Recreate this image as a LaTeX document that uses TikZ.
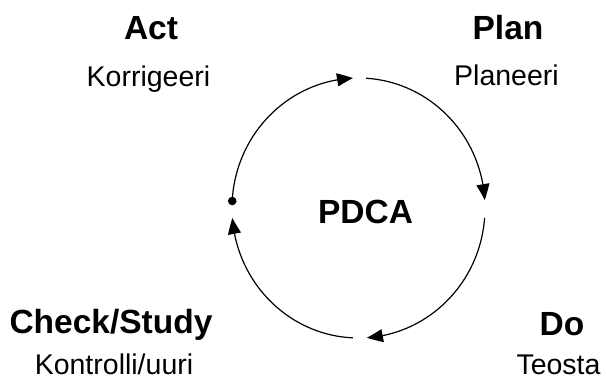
\documentclass[tikz,border=0pt]{standalone}
\usepackage{fontspec}
\setmainfont{Liberation Sans}
\usetikzlibrary{arrows.meta,bending,calc}
\begin{document}
\begin{tikzpicture}[x=1pt,y=1pt,
  head/.style={inner sep=0pt,anchor=base,font=\fontsize{33.5}{38}\selectfont\bfseries},
  sub/.style={inner sep=0pt,anchor=base,font=\fontsize{28.5}{34}\selectfont},
  cyc/.style={line width=1.2pt,black},
  tipA/.style={-{Triangle[length=16pt,width=13pt,bend]}},
]
\useasboundingbox (0,0) rectangle (606,-380);
\def\rx{126.5pt}\def\ry{130pt}
\coordinate (c) at (358.5,-208);
% labels
\node[head] (act) at (151,-39) {Act};
\node[sub] (actsub) at (148.5,-86) {Korrigeeri};
\node[head] (plan) at (508,-39) {Plan};
\node[sub] (plansub) at (506.5,-85) {Planeeri};
\node[head] (check) at (111,-333) {Check/Study};
\node[sub] (checksub) at (114,-374) {Kontrolli/uuri};
\node[head] (do) at (562,-335) {Do};
\node[sub] (dosub) at (558.5,-374) {Teosta};
\node[head] (pdca) at (365.5,-223) {PDCA};
% arc start points
\coordinate (s1) at ($(c)+(86.6:126.5 and 130)$);
\coordinate (s2) at ($(c)+(-4.4:126.5 and 130)$);
\coordinate (s3) at ($(c)+(-92.5:126.5 and 130)$);
\coordinate (s4) at ($(c)+(178.8:126.5 and 130)$);
% cycle arcs
\draw[cyc,tipA] (s1) arc[start angle=86.6,end angle=3.5,x radius=\rx,y radius=\ry];
\draw[cyc,tipA] (s2) arc[start angle=-4.4,end angle=-86.2,x radius=\rx,y radius=\ry];
\draw[cyc,tipA] (s3) arc[start angle=-92.5,end angle=-175.6,x radius=\rx,y radius=\ry];
\draw[cyc,{Circle[length=8.5pt]}-{Triangle[length=16pt,width=13pt,bend]}] (s4) arc[start angle=178.8,end angle=92.5,x radius=\rx,y radius=\ry];
\end{tikzpicture}
\end{document}
